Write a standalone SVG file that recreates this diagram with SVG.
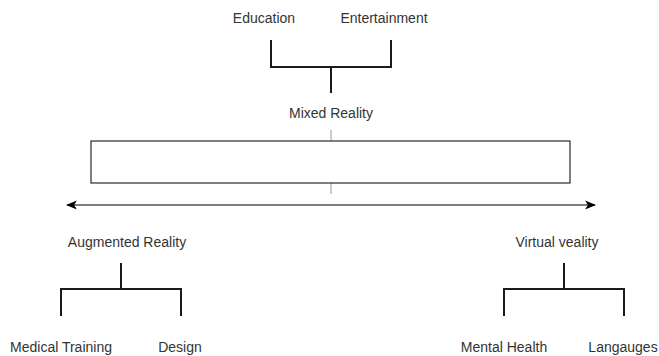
<svg xmlns="http://www.w3.org/2000/svg" width="659" height="356" viewBox="0 0 659 356">
<style>
text{font-family:"Liberation Sans",Arial,sans-serif;font-size:14px;fill:#333;text-anchor:middle}
.br{fill:none;stroke:#1a1a1a;stroke-width:2}
.tk{stroke:#999;stroke-width:1}
</style>
<defs>
<marker id="ah" viewBox="0 0 10 10" refX="9" refY="5" markerWidth="11" markerHeight="11" markerUnits="userSpaceOnUse" orient="auto-start-reverse">
<path d="M0,1 L10,5 L0,9 L2.5,5 Z" fill="#000"/>
</marker>
</defs>
<rect width="659" height="356" fill="#fff"/>
<g id="connectors">
<path class="br" d="M271,40 V67 H391 V40 M331,67 V93"/>
<path class="br" d="M121,263 V289 M61,316 V289 H181 V316"/>
<path class="br" d="M564,263 V289 M504,316 V289 H624 V316"/>
<line class="tk" x1="331" y1="130" x2="331" y2="141"/>
<line class="tk" x1="331" y1="183" x2="331" y2="194"/>
<line x1="67" y1="205" x2="595" y2="205" stroke="#000" stroke-width="1.2" marker-start="url(#ah)" marker-end="url(#ah)"/>
</g>
<g id="spectrum"><rect x="91" y="141" width="479" height="42" fill="#fff" stroke="#000" stroke-width="1"/></g>
<g id="education"><text x="264" y="23">Education</text></g>
<g id="entertainment"><text x="384" y="23">Entertainment</text></g>
<g id="mixed"><text x="331" y="118">Mixed Reality</text></g>
<g id="augmented"><text x="127" y="247">Augmented Reality</text></g>
<g id="virtual"><text x="557" y="247">Virtual veality</text></g>
<g id="medical"><text x="61" y="352">Medical Training</text></g>
<g id="design"><text x="180" y="352">Design</text></g>
<g id="mental"><text x="504" y="352">Mental Health</text></g>
<g id="languages"><text x="623" y="352">Langauges</text></g>
</svg>
